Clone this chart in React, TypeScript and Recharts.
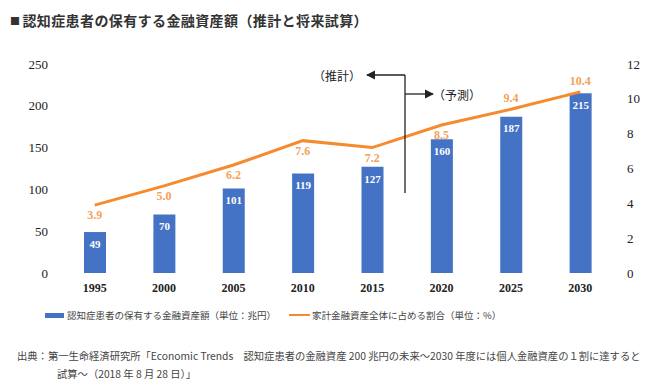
import React from 'react';
import { Bar, ComposedChart, LabelList, Line, XAxis, YAxis } from 'recharts';

// 認知症患者の保有する金融資産額（兆円）と家計金融資産に占める割合（%）

const YEARS = ['1995', '2000', '2005', '2010', '2015', '2020', '2025', '2030'];
const ASSETS = [49, 70, 101, 119, 127, 160, 187, 215];
const SHARE = [3.9, 5.0, 6.2, 7.6, 7.2, 8.5, 9.4, 10.4];
const LEFT_TICKS = [0, 50, 100, 150, 200, 250];
const RIGHT_TICKS = [0, 2, 4, 6, 8, 10, 12];

const BLUE = '#4472C4';
const ORANGE = '#F58B2E';
const ORANGE_TEXT = '#F2A25A';
const SERIF = '"Liberation Serif", "DejaVu Serif", serif';
const CJK = '"Noto Sans CJK JP", "Noto Sans", sans-serif';

const data = YEARS.map((year, i) => ({ year, assets: ASSETS[i], share: SHARE[i] }));

// 2025年以降はラベルを線の上、それ以前は下に置く
function ShareLabel(props: any) {
  const { x, y, value, index } = props;
  const above = index >= 6;
  return (
    <text
      x={x}
      y={above ? y - 11 : y + 10}
      textAnchor="middle"
      dominantBaseline="central"
      fill={ORANGE_TEXT}
      fontFamily={SERIF}
      fontWeight="bold"
      fontSize={12}
    >
      {Number(value).toFixed(1)}
    </text>
  );
}

const tickStyle = { fontFamily: SERIF, fontSize: 13, fill: '#222' };

export default function App() {
  return (
    <div style={{ position: 'absolute', left: 0, top: 0, width: 666, height: 389, background: '#fff', fontFamily: CJK }}>
      <div style={{ position: 'absolute', left: 10, top: 10, fontSize: 14, fontWeight: 'bold', color: '#333', whiteSpace: 'nowrap', letterSpacing: 0.4 }}>
        <span style={{ fontSize: 10, marginRight: 2, verticalAlign: 1 }}>■</span>
        認知症患者の保有する金融資産額（推計と将来試算）
      </div>

      <ComposedChart width={666} height={300} data={data} margin={{ top: 64, right: 0, bottom: 0, left: 0 }}>
        <XAxis
          dataKey="year"
          height={27}
          axisLine={false}
          tickLine={false}
          tickMargin={4}
          tick={{ fontFamily: SERIF, fontSize: 12, fontWeight: 'bold', fill: '#222' }}
        />
        <YAxis
          yAxisId="left"
          width={60}
          domain={[0, 250]}
          ticks={LEFT_TICKS}
          axisLine={false}
          tickLine={false}
          tickMargin={6}
          tick={tickStyle}
        />
        <YAxis
          yAxisId="right"
          orientation="right"
          width={51}
          domain={[0, 12]}
          ticks={RIGHT_TICKS}
          axisLine={false}
          tickLine={false}
          tickMargin={6}
          tick={tickStyle}
        />
        <Bar yAxisId="left" dataKey="assets" fill={BLUE} barSize={22} isAnimationActive={false}>
          <LabelList
            dataKey="assets"
            position="insideTop"
            offset={8}
            fill="#fff"
            fontFamily={SERIF}
            fontWeight="bold"
            fontSize={11}
          />
        </Bar>
        <Line
          yAxisId="right"
          dataKey="share"
          stroke={ORANGE}
          strokeWidth={3}
          dot={false}
          label={ShareLabel}
          isAnimationActive={false}
        />
      </ComposedChart>

      {/* 推計／予測の境目 */}
      <svg width={666} height={389} style={{ position: 'absolute', left: 0, top: 0, pointerEvents: 'none' }}>
        <defs>
          <marker id="arr" viewBox="0 0 10 10" refX="9" refY="5" markerWidth="7" markerHeight="7" orient="auto">
            <path d="M0,0 L10,5 L0,10 z" fill="#222" />
          </marker>
        </defs>
        <line x1={405} y1={75} x2={405} y2={193} stroke="#222" strokeWidth={1.3} />
        <line x1={405} y1={75} x2={367} y2={75} stroke="#222" strokeWidth={1.3} markerEnd="url(#arr)" />
        <line x1={405} y1={94} x2={433} y2={94} stroke="#222" strokeWidth={1.3} markerEnd="url(#arr)" />
        <text x={361} y={75} textAnchor="end" dominantBaseline="central" fontFamily={CJK} fontSize={12} fill="#222">
          （推計）
        </text>
        <text x={433} y={94} textAnchor="start" dominantBaseline="central" fontFamily={CJK} fontSize={12} fill="#222">
          （予測）
        </text>
      </svg>

      <div style={{ position: 'absolute', left: 45, top: 308, fontSize: 9.5, color: '#444', whiteSpace: 'nowrap', display: 'flex', alignItems: 'center' }}>
        <span style={{ display: 'inline-block', width: 19, height: 5, background: BLUE, marginRight: 3 }} />
        <span>認知症患者の保有する金融資産額（単位：兆円）</span>
        <span style={{ display: 'inline-block', width: 21, height: 2, background: ORANGE, marginLeft: 13, marginRight: 2 }} />
        <span>家計金融資産全体に占める割合（単位：%）</span>
      </div>

      <div style={{ position: 'absolute', left: 17, top: 347, fontSize: 10.3, color: '#444', whiteSpace: 'nowrap', lineHeight: '18px' }}>
        <div>出典：第一生命経済研究所「Economic Trends　認知症患者の金融資産 200 兆円の未来～2030 年度には個人金融資産の１割に達すると</div>
        <div style={{ paddingLeft: 40 }}>試算～（2018 年 8 月 28 日）」</div>
      </div>
    </div>
  );
}
